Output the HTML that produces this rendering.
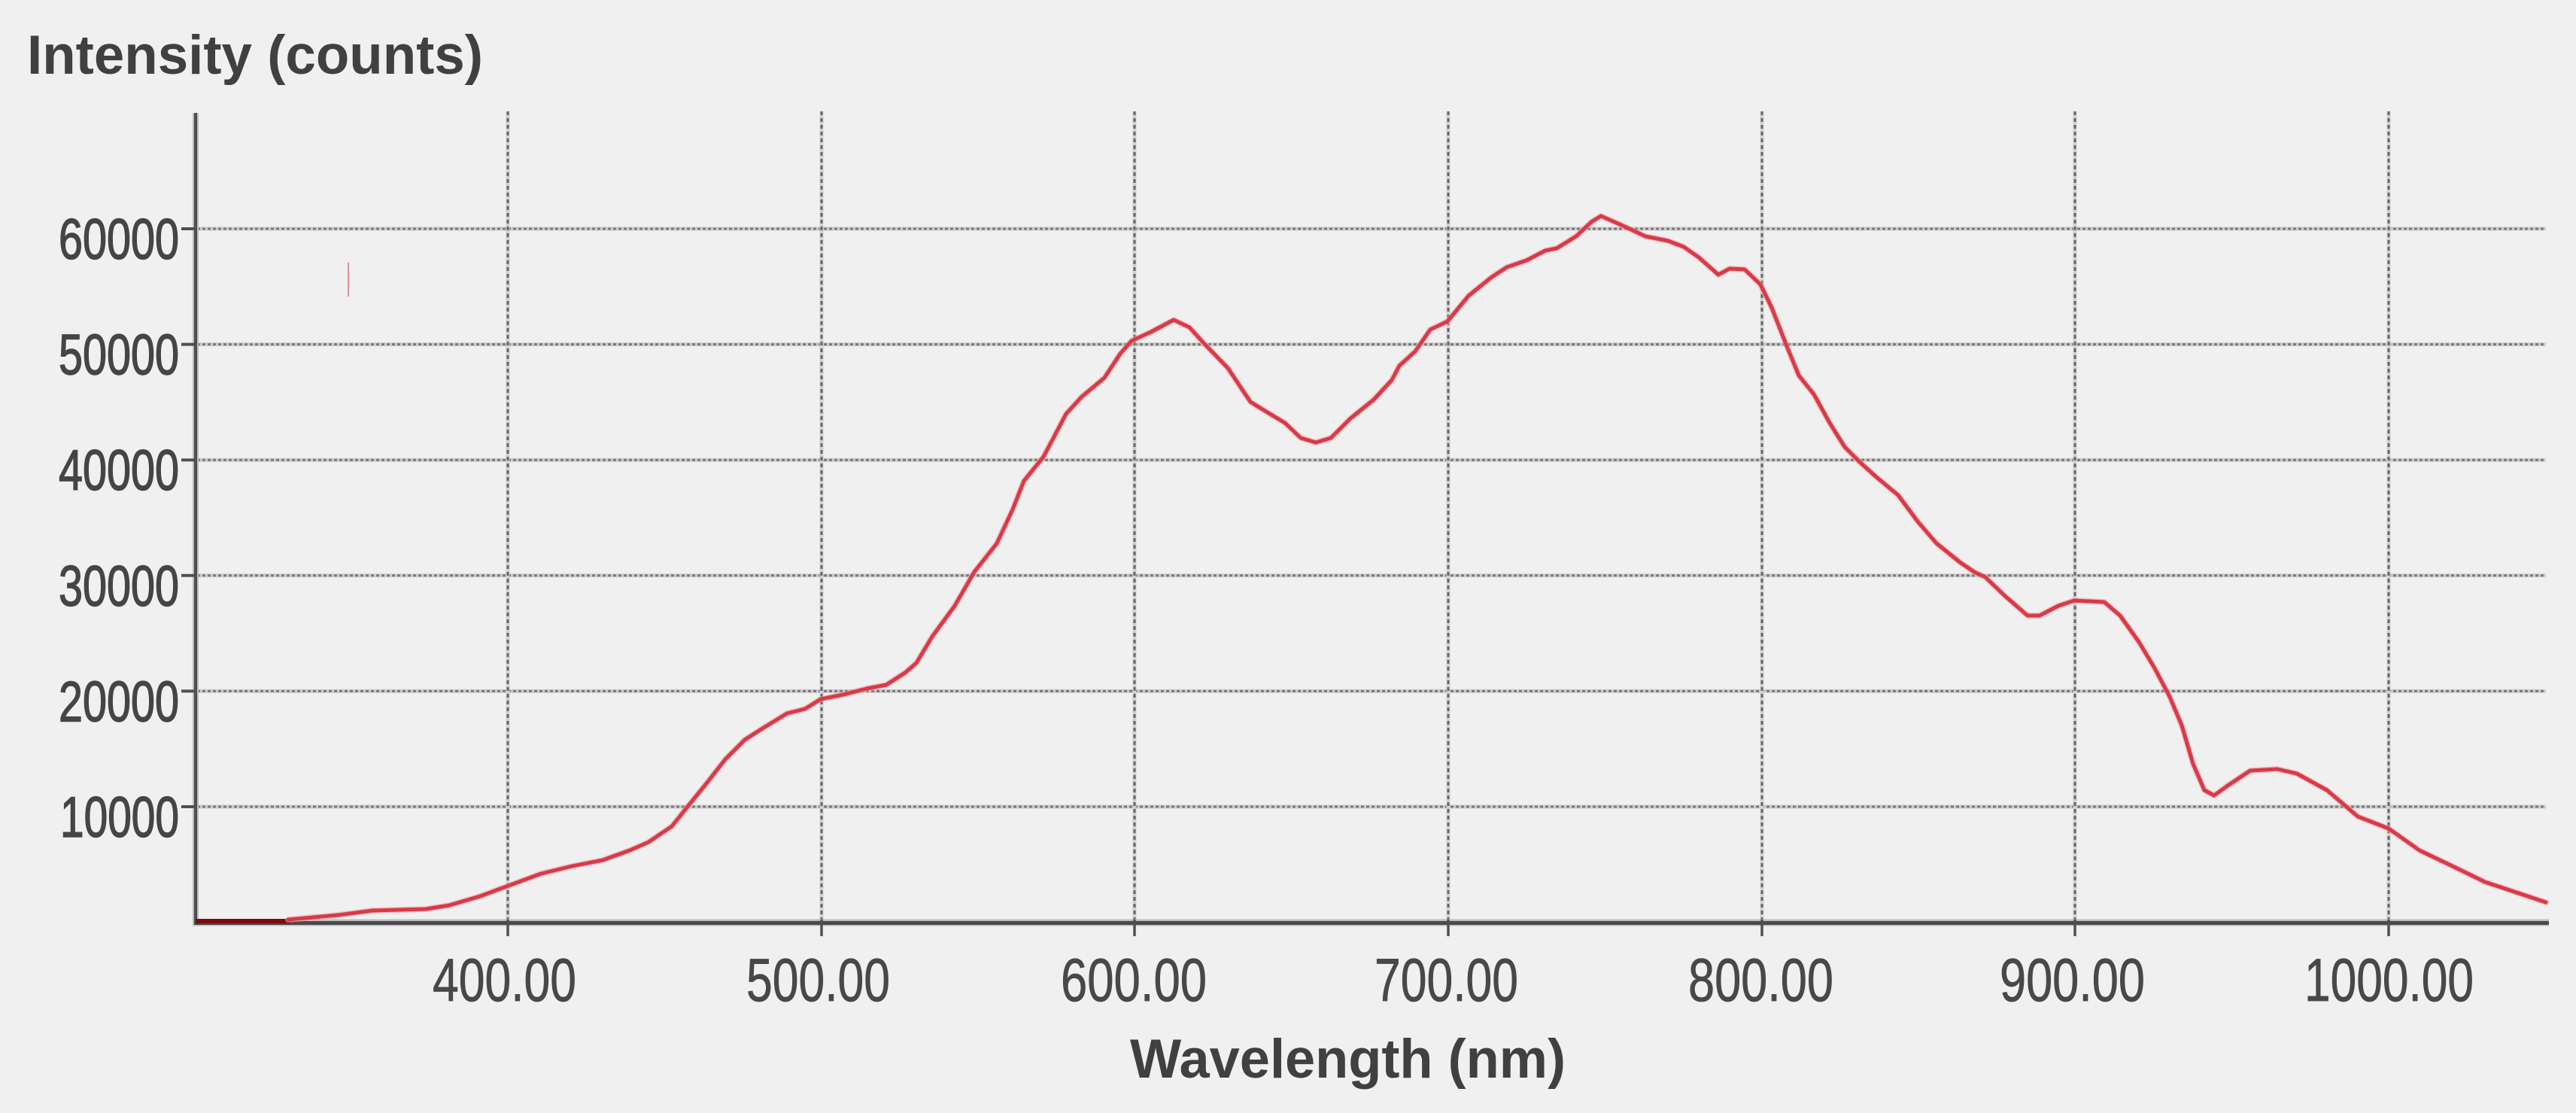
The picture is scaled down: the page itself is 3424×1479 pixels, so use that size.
<!DOCTYPE html>
<html>
<head>
<meta charset="utf-8">
<style>
html,body{margin:0;padding:0;background:#f0f0f0;}
svg{display:block;}
</style>
</head>
<body>
<svg xmlns="http://www.w3.org/2000/svg" width="3424" height="1479" viewBox="0 0 3424 1479">
<rect x="0" y="0" width="3424" height="1479" fill="#f0f0f0"/>

<!-- title -->
<text x="36" y="98" font-family="'Liberation Sans', Arial, sans-serif" font-weight="bold" font-size="73" fill="#404040" textLength="606" lengthAdjust="spacingAndGlyphs">Intensity (counts)</text>

<!-- horizontal gridlines -->
<g>
  <g stroke="#cdcdcd" stroke-width="5">
    <line x1="262" y1="304" x2="3384" y2="304"/>
    <line x1="262" y1="457.6" x2="3384" y2="457.6"/>
    <line x1="262" y1="611.2" x2="3384" y2="611.2"/>
    <line x1="262" y1="764.8" x2="3384" y2="764.8"/>
    <line x1="262" y1="918.4" x2="3384" y2="918.4"/>
    <line x1="262" y1="1072" x2="3384" y2="1072"/>
  </g>
  <g stroke="#7a7a7a" stroke-width="3" stroke-dasharray="4 3">
    <line x1="262" y1="304" x2="3384" y2="304"/>
    <line x1="262" y1="457.6" x2="3384" y2="457.6"/>
    <line x1="262" y1="611.2" x2="3384" y2="611.2"/>
    <line x1="262" y1="764.8" x2="3384" y2="764.8"/>
    <line x1="262" y1="918.4" x2="3384" y2="918.4"/>
    <line x1="262" y1="1072" x2="3384" y2="1072"/>
  </g>
</g>

<!-- vertical gridlines -->
<g>
  <g stroke="#d2d2d2" stroke-width="5">
    <line x1="675" y1="148" x2="675" y2="1224"/>
    <line x1="1092" y1="148" x2="1092" y2="1224"/>
    <line x1="1508" y1="148" x2="1508" y2="1224"/>
    <line x1="1925" y1="148" x2="1925" y2="1224"/>
    <line x1="2342" y1="148" x2="2342" y2="1224"/>
    <line x1="2758" y1="148" x2="2758" y2="1224"/>
    <line x1="3175" y1="148" x2="3175" y2="1224"/>
  </g>
  <g stroke="#666666" stroke-width="3" stroke-dasharray="5 4">
    <line x1="675" y1="148" x2="675" y2="1224"/>
    <line x1="1092" y1="148" x2="1092" y2="1224"/>
    <line x1="1508" y1="148" x2="1508" y2="1224"/>
    <line x1="1925" y1="148" x2="1925" y2="1224"/>
    <line x1="2342" y1="148" x2="2342" y2="1224"/>
    <line x1="2758" y1="148" x2="2758" y2="1224"/>
    <line x1="3175" y1="148" x2="3175" y2="1224"/>
  </g>
</g>

<!-- axes -->
<g>
  <line x1="260" y1="150" x2="260" y2="1229" stroke="#bdbdbd" stroke-width="8"/>
  <line x1="256" y1="1226" x2="3388" y2="1226" stroke="#bdbdbd" stroke-width="9"/>
  <line x1="260" y1="150" x2="260" y2="1229" stroke="#4e4e4e" stroke-width="4"/>
  <line x1="258" y1="1226.5" x2="3388" y2="1226.5" stroke="#4a4a4a" stroke-width="5"/>
  <!-- y ticks -->
  <g stroke="#505050" stroke-width="4">
    <line x1="241" y1="304" x2="260" y2="304"/>
    <line x1="241" y1="457.6" x2="260" y2="457.6"/>
    <line x1="241" y1="611.2" x2="260" y2="611.2"/>
    <line x1="241" y1="764.8" x2="260" y2="764.8"/>
    <line x1="241" y1="918.4" x2="260" y2="918.4"/>
    <line x1="241" y1="1072" x2="260" y2="1072"/>
  </g>
  <!-- x ticks -->
  <g stroke="#505050" stroke-width="3.5">
    <line x1="675" y1="1222" x2="675" y2="1244"/>
    <line x1="1092" y1="1222" x2="1092" y2="1244"/>
    <line x1="1508" y1="1222" x2="1508" y2="1244"/>
    <line x1="1925" y1="1222" x2="1925" y2="1244"/>
    <line x1="2342" y1="1222" x2="2342" y2="1244"/>
    <line x1="2758" y1="1222" x2="2758" y2="1244"/>
    <line x1="3175" y1="1222" x2="3175" y2="1244"/>
  </g>
</g>

<!-- y tick labels -->
<g font-family="'Liberation Sans', Arial, sans-serif" font-size="76" fill="#454545" stroke="#454545" stroke-width="1.5">
  <text x="78" y="344" textLength="160" lengthAdjust="spacingAndGlyphs">60000</text>
  <text x="78" y="497.6" textLength="160" lengthAdjust="spacingAndGlyphs">50000</text>
  <text x="78" y="651.2" textLength="160" lengthAdjust="spacingAndGlyphs">40000</text>
  <text x="78" y="804.8" textLength="160" lengthAdjust="spacingAndGlyphs">30000</text>
  <text x="78" y="958.4" textLength="160" lengthAdjust="spacingAndGlyphs">20000</text>
  <text x="80" y="1112" textLength="158" lengthAdjust="spacingAndGlyphs">10000</text>
</g>

<!-- x tick labels -->
<g font-family="'Liberation Sans', Arial, sans-serif" font-size="81" fill="#484848" stroke="#484848" stroke-width="0.8">
  <text x="575" y="1330" textLength="191" lengthAdjust="spacingAndGlyphs">400.00</text>
  <text x="992" y="1330" textLength="191" lengthAdjust="spacingAndGlyphs">500.00</text>
  <text x="1410" y="1330" textLength="194" lengthAdjust="spacingAndGlyphs">600.00</text>
  <text x="1827" y="1330" textLength="191" lengthAdjust="spacingAndGlyphs">700.00</text>
  <text x="2244" y="1330" textLength="193" lengthAdjust="spacingAndGlyphs">800.00</text>
  <text x="2658" y="1330" textLength="193" lengthAdjust="spacingAndGlyphs">900.00</text>
  <text x="3063" y="1330" textLength="225" lengthAdjust="spacingAndGlyphs">1000.00</text>
</g>

<!-- x axis label -->
<text x="1502" y="1432" font-family="'Liberation Sans', Arial, sans-serif" font-weight="bold" font-size="73" fill="#404040" textLength="579" lengthAdjust="spacingAndGlyphs">Wavelength (nm)</text>

<!-- small red mark -->
<line x1="463" y1="349" x2="463" y2="394" stroke="#e87080" stroke-width="2" opacity="0.8"/>

<!-- dark red baseline segment -->
<line x1="260" y1="1224" x2="386" y2="1224" stroke="#7d0b12" stroke-width="6"/>

<!-- spectrum curve -->
<polyline fill="none" stroke="#f2a0a6" stroke-width="8" stroke-linejoin="round" stroke-linecap="round" opacity="0.6"
points="383,1222 449,1216 495,1210 566,1208 597,1203 638,1191 673,1178 719,1161 760,1151 801,1143 837,1130 862,1119 893,1098 913,1073 939,1041 964,1009 990,983 1015,967 1046,948 1070,942 1091,929 1121,923 1152,915 1178,910 1203,894 1218,881 1239,846 1269,805 1295,760 1325,722 1346,677 1361,639 1387,607 1417,550 1438,527 1468,502 1489,470 1504,453 1530,441 1560,425 1581,435 1601,457 1632,489 1662,534 1688,550 1708,562 1729,582 1749,588 1769,582 1795,556 1826,531 1850,505 1860,486 1881,467 1901,438 1924,427 1952,393 1983,368 2003,355 2029,346 2054,333 2069,330 2095,314 2115,295 2128,287 2146,295 2166,304 2187,314 2217,320 2238,328 2258,342 2284,365 2299,357 2319,358 2340,378 2355,409 2375,460 2391,499 2411,524 2432,562 2452,594 2472,614 2493,633 2523,658 2549,693 2574,722 2605,747 2624,760 2639,767 2665,792 2695,818 2711,818 2736,805 2757,798 2797,800 2818,818 2843,853 2864,888 2884,926 2900,964 2915,1015 2930,1050 2943,1057 2961,1044 2991,1024 3027,1022 3053,1028 3093,1050 3134,1085 3175,1101 3216,1130 3262,1152 3303,1172 3348,1187 3384,1199"/>
<polyline fill="none" stroke="#d83a48" stroke-width="5" stroke-linejoin="round" stroke-linecap="round"
points="383,1222 449,1216 495,1210 566,1208 597,1203 638,1191 673,1178 719,1161 760,1151 801,1143 837,1130 862,1119 893,1098 913,1073 939,1041 964,1009 990,983 1015,967 1046,948 1070,942 1091,929 1121,923 1152,915 1178,910 1203,894 1218,881 1239,846 1269,805 1295,760 1325,722 1346,677 1361,639 1387,607 1417,550 1438,527 1468,502 1489,470 1504,453 1530,441 1560,425 1581,435 1601,457 1632,489 1662,534 1688,550 1708,562 1729,582 1749,588 1769,582 1795,556 1826,531 1850,505 1860,486 1881,467 1901,438 1924,427 1952,393 1983,368 2003,355 2029,346 2054,333 2069,330 2095,314 2115,295 2128,287 2146,295 2166,304 2187,314 2217,320 2238,328 2258,342 2284,365 2299,357 2319,358 2340,378 2355,409 2375,460 2391,499 2411,524 2432,562 2452,594 2472,614 2493,633 2523,658 2549,693 2574,722 2605,747 2624,760 2639,767 2665,792 2695,818 2711,818 2736,805 2757,798 2797,800 2818,818 2843,853 2864,888 2884,926 2900,964 2915,1015 2930,1050 2943,1057 2961,1044 2991,1024 3027,1022 3053,1028 3093,1050 3134,1085 3175,1101 3216,1130 3262,1152 3303,1172 3348,1187 3384,1199"/>
</svg>
</body>
</html>
